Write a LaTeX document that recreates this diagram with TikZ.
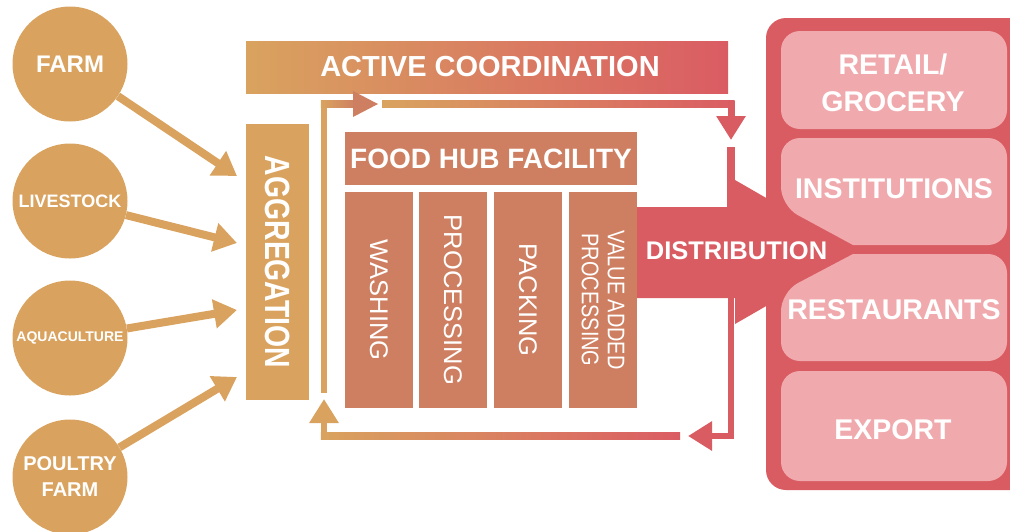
\documentclass[tikz,border=0pt]{standalone}
\usepackage{fontspec}
\setmainfont{Liberation Sans}
\usetikzlibrary{arrows.meta,calc}
\definecolor{cOr}{HTML}{D9A35F}
\definecolor{cBr}{HTML}{CE7F61}
\definecolor{cRd}{HTML}{DA5C63}
\definecolor{cPk}{HTML}{F0AAAE}
\newcommand{\fsz}[1]{\fontsize{#1}{#1}\selectfont}
\begin{document}
\begin{tikzpicture}[x=1pt,y=-1pt,
  src/.style={circle,fill=cOr,minimum size=115pt,inner sep=0pt,text=white,align=center},
  feed/.style={draw=cOr,line width=8pt,-{Triangle[length=23pt,width=28pt]}},
  wt/.style={text=white,inner sep=0pt,align=center},
  col/.style={rotate=-90,fill=cBr,minimum width=216pt,minimum height=68pt,inner sep=0pt,text=white,align=center,font=\fsz{25.5}},
  pinkbox/.style={fill=cPk,rounded corners=19pt},
  tipD/.style={-{Triangle[length=24pt,width=28pt]}},
  bigtxt/.style={wt,font=\bfseries\fsz{28.5}}
]
\useasboundingbox (0,0) rectangle (1010,531);
\clip (0,0) rectangle (1010,531);

% ---- sources
\node[src,font=\bfseries\fsz{24}] (farm) at (70,64) {FARM};
\node[src,font=\bfseries\fsz{18}] (live) at (70,201) {LIVESTOCK};
\node[src,font=\bfseries\fsz{14}] (aqua) at (70,338) {AQUACULTURE};
\node[src,font=\bfseries\fontsize{20}{26}\selectfont] (poul) at (70,477) {POULTRY\\FARM};

% ---- aggregation
\node[rotate=-90,fill=cOr,minimum width=276pt,minimum height=63pt,inner sep=0pt,text=white,font=\bfseries\fsz{35}] (agg) at (277.5,262) {\scalebox{0.81}[1]{AGGREGATION}};

\coordinate (t1) at (237,176);
\coordinate (t2) at (237,243);
\coordinate (t3) at (237,310);
\coordinate (t4) at (237,377);
\draw[feed] (farm) -- (t1);
\draw[feed] (live) -- (t2);
\draw[feed] (aqua) -- (t3);
\draw[feed] (poul) -- (t4);

% ---- active coordination
\node[left color=cOr,right color=cRd,minimum width=482pt,minimum height=52pt,inner sep=0pt,text=white,font=\bfseries\fsz{29}] (coord) at (487,67) {\hspace*{6pt}ACTIVE COORDINATION};

% ---- food hub
\node[fill=cBr,minimum width=292pt,minimum height=53pt,inner sep=0pt,text=white,font=\bfseries\fsz{28}] (hub) at (491,158.5) {FOOD HUB FACILITY};
\node[col] (wash) at (379,300) {WASHING};
\node[col] (proc) at (453,300) {PROCESSING};
\node[col] (pack) at (528,300) {PACKING};
\node[col,font=\fontsize{24}{26}\selectfont] (vadd) at (603,300) {\scalebox{0.83}[1]{VALUE ADDED}\\\scalebox{0.83}[1]{PROCESSING}};

% ---- right panel
\fill[cRd,rounded corners=20pt] (766,18) rectangle (1040,490);

% ---- distribution arrow
\fill[cRd] (637,207) -- (735,207) -- (735,180) -- (860,252) -- (735,324) -- (735,298) -- (637,298) -- cycle;
\draw[cRd,line width=8pt] (731,147) -- (731,207);
\node[wt,font=\bfseries\fsz{25.5}] (dist) at (736.5,251) {DISTRIBUTION};

% ---- pink boxes
\fill[pinkbox] (781,31) rectangle (1007,129);
\fill[cPk] (853,245) [rounded corners=19pt] -- (781,206) -- (781,138) -- (1007,138) -- (1007,245) [sharp corners] -- cycle;
\fill[cPk] (853,254) [rounded corners=19pt] -- (1007,254) -- (1007,361) -- (781,361) -- (781,292) [sharp corners] -- cycle;
\fill[pinkbox] (781,371) rectangle (1007,481);
\node[wt,font=\bfseries\fontsize{28.5}{37}\selectfont] (retail) at (893,83) {RETAIL/\\GROCERY};
\node[bigtxt] (inst) at (894,188.5) {INSTITUTIONS};
\node[bigtxt] (rest) at (894,310) {RESTAURANTS};
\node[bigtxt] (expo) at (893,430) {EXPORT};

% ---- coordination loop
\coordinate (lb) at (324,393);
\coordinate (lt) at (324,104);
\coordinate (ta) at (378,104);
\draw[cOr,line width=6.5pt] (lb) -- ($(lt)+(0,-3.25)$);
\shade[left color=cOr,right color=cBr] ($(lt)+(-3.25,-3.25)$) rectangle ($(ta)+(-22,3.25)$);
\fill[cBr] ($(ta)+(-25,-13)$) -- (ta) -- ($(ta)+(-25,13)$) -- cycle;

\coordinate (ts) at (382,104);
\coordinate (tc) at (731,104);
\coordinate (td) at (731,140);
\shade[left color=cOr,right color=cRd] ($(ts)+(0,-3.5)$) rectangle ($(tc)+(3.5,3.5)$);
\draw[cRd,line width=7pt,tipD] ($(tc)+(0,-3.5)$) -- (td);

\coordinate (bs) at (731,298);
\coordinate (ba) at (688,436);
\draw[cRd,line width=6.5pt,line join=miter,tipD] (bs) |- (ba);

\coordinate (bl) at (680,436);
\coordinate (bc) at (324,436);
\coordinate (bu) at (324,399);
\shade[left color=cOr,right color=cRd] ($(bc)+(-3.25,-3.25)$) rectangle ($(bl)+(0,3.25)$);
\draw[cOr,line width=6.5pt,tipD] ($(bc)+(0,3.25)$) -- (bu);
\end{tikzpicture}
\end{document}
